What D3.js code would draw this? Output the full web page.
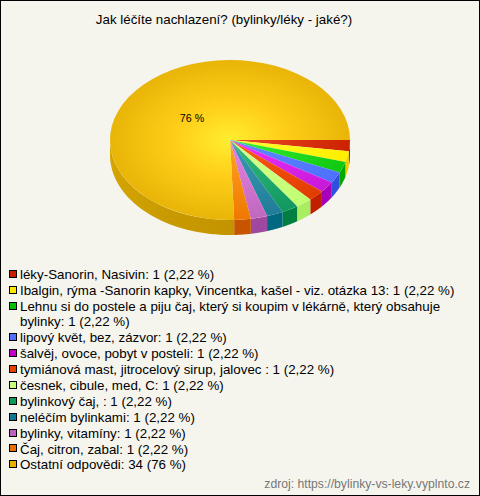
<!DOCTYPE html>
<html><head><meta charset="utf-8">
<script src="https://cdn.jsdelivr.net/npm/d3@7"></script>
<style>html,body{margin:0;padding:0;background:#f5f5ee}svg{display:block}text{font-family:"Liberation Sans",Arial,sans-serif}</style>
</head><body><div id="c"></div>
<script>
const title = "Jak léčíte nachlazení? (bylinky/léky - jaké?)";
const source = "zdroj: https://bylinky-vs-leky.vyplnto.cz";
const categories = ["léky-Sanorin, Nasivin","Ibalgin, rýma -Sanorin kapky, Vincentka, kašel - viz. otázka 13","Lehnu si do postele a piju čaj, který si koupim v lékárně, který obsahuje bylinky","lipový květ, bez, zázvor","šalvěj, ovoce, pobyt v posteli","tymiánová mast, jitrocelový sirup, jalovec ","česnek, cibule, med, C","bylinkový čaj, ","neléčím bylinkami","bylinky, vitamíny","Čaj, citron, zabal","Ostatní odpovědi"];
const values = [1,1,1,1,1,1,1,1,1,1,1,34];
const percents = ["2,22 %","2,22 %","2,22 %","2,22 %","2,22 %","2,22 %","2,22 %","2,22 %","2,22 %","2,22 %","2,22 %","76 %"];
const legendColors = ["#c81e00","#ffe800","#00c000","#5070ff","#c000c8","#e84000","#c8ff78","#109858","#107890","#c060c0","#e87000","#e8b000"];
const innerColors = ["#ee4a28","#ffff30","#38f038","#5c8cff","#ec34ff","#ff5e18","#d8ff90","#34bc7c","#3c9cb4","#e484e4","#ffa424","#ffee30"];
const outerColors = ["#cc2200","#ffee00","#10c810","#4f70ff","#c818d8","#e03c00","#c0ff70","#109860","#207c98","#c068c0","#f07800","#e8b508"];
const sideColors = ["#b81c00","#eecc00","#00a800","#3050e0","#a800b8","#c02000","#a8ee60","#008040","#006880","#a048a0","#c85400","#c49400"];

const W=480,H=496,cx=230,cy=140,rx=120,ry=80,depth=15;
const svg=d3.select("#c").append("svg").attr("width",W).attr("height",H);
svg.append("rect").attr("width",W).attr("height",H).attr("fill","#f5f5ee");
svg.append("rect").attr("x",0.5).attr("y",0.5).attr("width",W-1).attr("height",H-1).attr("fill","none").attr("stroke","#000");
svg.append("text").attr("x",224).attr("y",24).attr("text-anchor","middle").attr("font-size",13.33).attr("fill","#000").text(title);

const defs=svg.append("defs");
const pie=d3.pie().value(d=>d).sort(null).startAngle(Math.PI/2).endAngle(Math.PI*2.5);
const arcs=pie(values);
const arc=d3.arc().innerRadius(0).outerRadius(rx);
const ky=ry/rx;
arcs.forEach((a,i)=>{
  const g=defs.append("radialGradient").attr("id","g"+i).attr("gradientUnits","userSpaceOnUse").attr("cx",0).attr("cy",0).attr("r",rx);
  g.append("stop").attr("offset",0).attr("stop-color",innerColors[i]);
  if(i===11) g.append("stop").attr("offset",0.45).attr("stop-color","#ffce18");
  g.append("stop").attr("offset",1).attr("stop-color",outerColors[i]);
});
const sg=defs.append("linearGradient").attr("id","sideGold").attr("gradientUnits","userSpaceOnUse").attr("x1",cx-rx).attr("x2",cx).attr("y1",0).attr("y2",0);
sg.append("stop").attr("offset",0).attr("stop-color","#d4a400");
sg.append("stop").attr("offset",0.5).attr("stop-color","#c89a00");
sg.append("stop").attr("offset",1).attr("stop-color",sideColors[11]);

const px=t=>cx+rx*Math.sin(t), py=t=>cy-ry*Math.cos(t);
function wall(a0,a1){
  const lo=Math.max(a0,Math.PI/2), hi=Math.min(a1,Math.PI*1.5);
  if(hi<=lo) return null;
  const pts=d3.range(0,41).map(k=>lo+(hi-lo)*k/40);
  const top=pts.map(t=>[px(t),py(t)]), bot=pts.slice().reverse().map(t=>[px(t),py(t)+depth]);
  return d3.line()(top.concat(bot))+"Z";
}
const gSide=svg.append("g");
arcs.forEach((a,i)=>{
  const d=wall(a.startAngle,a.endAngle);
  if(d) gSide.append("path").attr("d",d).attr("fill",i===11?"url(#sideGold)":sideColors[i]);
});
const gTop=svg.append("g").attr("transform",`translate(${cx},${cy}) scale(1,${ky})`);
gTop.selectAll("path").data(arcs).join("path").attr("d",arc).attr("fill",(d,i)=>`url(#g${i})`);
svg.append("text").attr("x",192).attr("y",122).attr("text-anchor","middle").attr("font-size",10.67).attr("fill","#000").text("76 %");

const lg=svg.append("g");
let y=270;
const fs=13.33,maxW=452;
categories.forEach((c,i)=>{
  lg.append("rect").attr("x",9.5).attr("y",Math.round(y)+0.5).attr("width",7).attr("height",7).attr("fill",legendColors[i]).attr("stroke","#000");
  const t=lg.append("text").attr("x",20).attr("y",y+9).attr("font-size",fs).attr("fill","#000");
  const words=(c+": "+values[i]+" ("+percents[i]+")").split(" ");
  let line="",n=0,ts=t.append("tspan").attr("x",20);
  words.forEach(w=>{
    const tryL=line?line+" "+w:w;
    ts.text(tryL);
    if(ts.node().getComputedTextLength()>maxW&&line){
      ts.text(line);
      ts=t.append("tspan").attr("x",20).attr("dy",15).text(w);
      line=w;n++;
    } else line=tryL;
  });
  y+=15.95+n*15;
});
svg.append("text").attr("x",470).attr("y",488).attr("text-anchor","end").attr("font-size",12.2).attr("fill","#777").text(source);
</script></body></html>
